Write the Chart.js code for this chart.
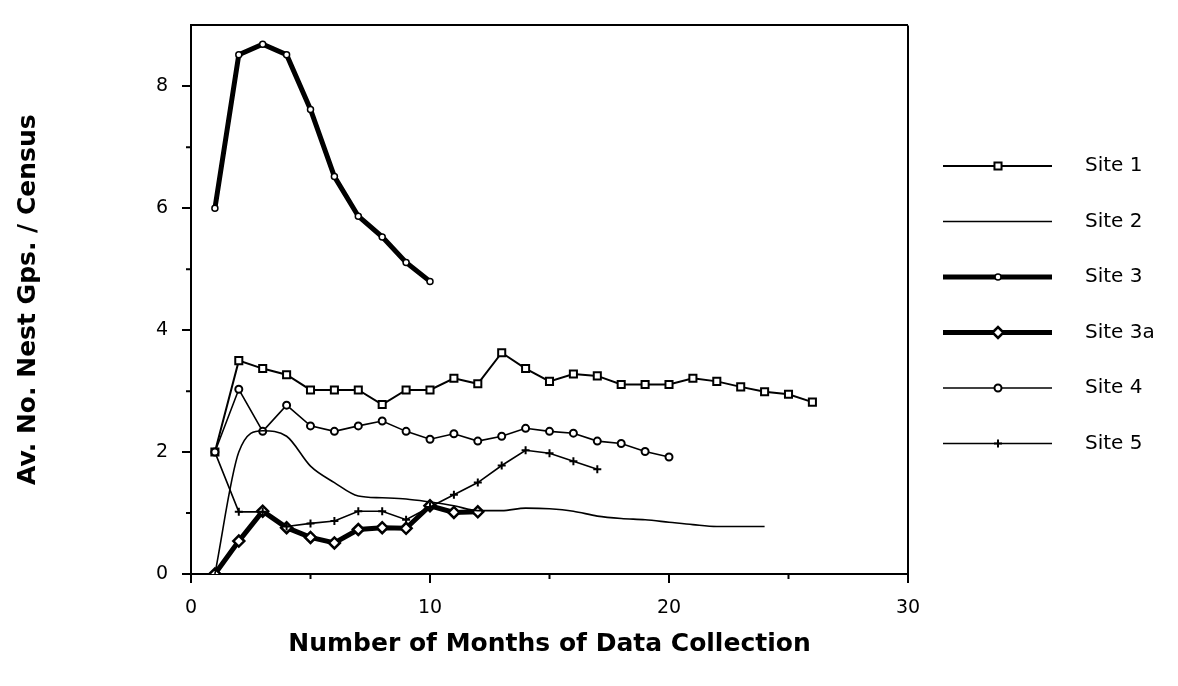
<!DOCTYPE html>
<html>
<head>
<meta charset="utf-8">
<title>Nest groups per census</title>
<script src="https://cdn.jsdelivr.net/npm/chart.js@4/dist/chart.umd.min.js"></script>
<style>
    body { margin: 0; background: #fff; }
    #wrap { width: 1178px; height: 686px; position: relative; }
</style>
</head>
<body>
<div id="wrap"><canvas id="nest-chart"></canvas></div>
<script>
// Months on the x axis (each site stops at its own last month)
const months = [1, 2, 3, 4, 5, 6, 7, 8, 9, 10, 11, 12, 13, 14, 15, 16, 17, 18, 19, 20, 21, 22, 23, 24, 25, 26];

// Av. no. nest groups per census
const site1 = [2.0, 3.5, 3.37, 3.27, 3.02, 3.02, 3.02, 2.78, 3.02, 3.02, 3.21, 3.12, 3.63, 3.37, 3.16, 3.28, 3.25, 3.11, 3.11, 3.11, 3.21, 3.16, 3.07, 2.99, 2.95, 2.82];
const site2 = [0, 2.0, 2.35, 2.26, 1.77, 1.5, 1.28, 1.25, 1.23, 1.18, 1.12, 1.04, 1.04, 1.08, 1.07, 1.03, 0.95, 0.91, 0.89, 0.85, 0.81, 0.78, 0.78, 0.78];
const site3 = [6.0, 8.52, 8.69, 8.52, 7.62, 6.52, 5.87, 5.53, 5.11, 4.8];
const site3a = [0, 0.54, 1.03, 0.76, 0.6, 0.51, 0.73, 0.76, 0.75, 1.12, 1.01, 1.02];
const site4 = [2.0, 3.03, 2.34, 2.77, 2.43, 2.34, 2.43, 2.51, 2.34, 2.21, 2.3, 2.18, 2.26, 2.39, 2.34, 2.31, 2.18, 2.14, 2.01, 1.92];
const site5 = [2.0, 1.02, 1.02, 0.78, 0.83, 0.87, 1.03, 1.03, 0.89, 1.1, 1.3, 1.5, 1.78, 2.03, 1.98, 1.85, 1.72];

// Axis ticks (labelled ones; the others are short minor ticks)
const xTicks = [0, 10, 20, 30];
const yTicks = [0, 2, 4, 6, 8];

const siteNames = ["Site 1", "Site 2", "Site 3", "Site 3a", "Site 4", "Site 5"];

const INK = "#000";
const tickFont = { family: "DejaVu Sans", size: 19 };
const titleFont = { family: "DejaVu Sans", size: 25, weight: "bold" };

// pair each value with its month
function toPoints(values) {
    return values.map((v, i) => ({ x: months[i], y: v }));
}

function makeSeries(label, values, lineWidth, pointStyle, radius, pointBorder, smooth) {
    return {
        label: label,
        data: toPoints(values),
        borderColor: INK,
        backgroundColor: "#fff",
        borderWidth: lineWidth,
        pointStyle: pointStyle,
        pointRadius: pointStyle ? radius : 0,
        pointBorderWidth: pointBorder,
        pointBackgroundColor: "#fff",
        pointBorderColor: INK,
        tension: smooth ? 0.4 : 0,
        cubicInterpolationMode: smooth ? "monotone" : "default",
        fill: false,
    };
}

const datasets = [
    makeSeries(siteNames[1], site2, 1.6, false, 0, 0, true),
    makeSeries(siteNames[4], site4, 1.6, "circle", 3.5, 2),
    makeSeries(siteNames[5], site5, 1.6, "cross", 4, 2),
    makeSeries(siteNames[0], site1, 2, "rect", 5, 2),
    makeSeries(siteNames[3], site3a, 5, "rectRot", 5.5, 2.5),
    makeSeries(siteNames[2], site3, 5, "circle", 3, 1.5),
];

// Minor ticks are drawn shorter than the labelled ones
const minorTicks = {
    id: "minorTicks",
    afterDraw(chart) {
        const ctx = chart.ctx;
        const { x, y } = chart.scales;
        ctx.save();
        ctx.strokeStyle = INK;
        ctx.lineWidth = 2;
        ctx.beginPath();
        x.ticks.forEach((t) => {
            if (xTicks.includes(t.value)) return;
            const px = x.getPixelForValue(t.value);
            ctx.moveTo(px, x.top);
            ctx.lineTo(px, x.top + 5);
        });
        y.ticks.forEach((t) => {
            if (yTicks.includes(t.value) || t.value === y.max) return;
            const py = y.getPixelForValue(t.value);
            ctx.moveTo(y.right, py);
            ctx.lineTo(y.right - 5, py);
        });
        ctx.stroke();
        ctx.restore();
    },
};

// Legend drawn by hand: a line with the marker sitting in its middle
const sideLegend = {
    id: "sideLegend",
    afterDraw(chart) {
        const ctx = chart.ctx;
        const rowTop = 166;
        const rowGap = 55.5;
        siteNames.forEach((name, row) => {
            const ds = chart.data.datasets.find((d) => d.label === name);
            const y = rowTop + row * rowGap;
            ctx.save();
            ctx.strokeStyle = INK;
            ctx.lineWidth = ds.borderWidth;
            ctx.beginPath();
            ctx.moveTo(943, y);
            ctx.lineTo(1052, y);
            ctx.stroke();
            if (ds.pointStyle) {
                ctx.fillStyle = "#fff";
                ctx.lineWidth = ds.pointBorderWidth;
                Chart.helpers.drawPoint(ctx, {
                    pointStyle: ds.pointStyle,
                    radius: ds.pointRadius,
                    borderWidth: ds.pointBorderWidth,
                    rotation: 0,
                }, 998, y);
            }
            ctx.fillStyle = INK;
            ctx.font = "20px 'DejaVu Sans'";
            ctx.textBaseline = "middle";
            ctx.fillText(name, 1085, y);
            ctx.restore();
        });
    },
};

const chart = new Chart(document.getElementById("nest-chart"), {
    type: "line",
    data: { datasets: datasets },
    plugins: [minorTicks, sideLegend],
    options: {
        responsive: true,
        maintainAspectRatio: false,
        animation: false,
        layout: { padding: { top: 10, right: 270, bottom: 0, left: 0 } },
        plugins: {
            legend: { display: false },
            tooltip: { enabled: false },
        },
        scales: {
            x: {
                type: "linear",
                min: 0,
                max: 30,
                afterFit: (scale) => { scale.height = 112; },
                ticks: {
                    stepSize: 5,
                    color: INK,
                    font: tickFont,
                    padding: 14,
                    maxRotation: 0,
                    callback: (v) => (xTicks.includes(v) ? v : ""),
                },
                grid: {
                    color: (c) => (c.tick && c.tick.value === 30 ? INK : "transparent"),
                    lineWidth: 2,
                    tickColor: (c) => (c.tick && xTicks.includes(c.tick.value) ? INK : "transparent"),
                    tickLength: 9,
                    tickWidth: 2,
                },
                border: { color: INK, width: 2 },
                title: {
                    display: true,
                    text: "Number of Months of Data Collection",
                    color: INK,
                    font: titleFont,
                    padding: { top: 0, bottom: 27 },
                },
            },
            y: {
                min: 0,
                max: 9,
                afterFit: (scale) => { scale.width = 191; },
                ticks: {
                    stepSize: 1,
                    color: INK,
                    font: tickFont,
                    padding: 14,
                    callback: (v) => (yTicks.includes(v) ? v : ""),
                },
                grid: {
                    color: (c) => (c.tick && c.tick.value === 9 ? INK : "transparent"),
                    lineWidth: 2,
                    tickColor: (c) => (c.tick && yTicks.includes(c.tick.value) ? INK : "transparent"),
                    tickLength: 9,
                    tickWidth: 2,
                },
                border: { color: INK, width: 2 },
                title: {
                    display: true,
                    text: "Av. No. Nest Gps. / Census",
                    color: INK,
                    font: titleFont,
                    padding: { top: 13, bottom: 0 },
                },
            },
        },
    },
});
</script>
</body>
</html>
